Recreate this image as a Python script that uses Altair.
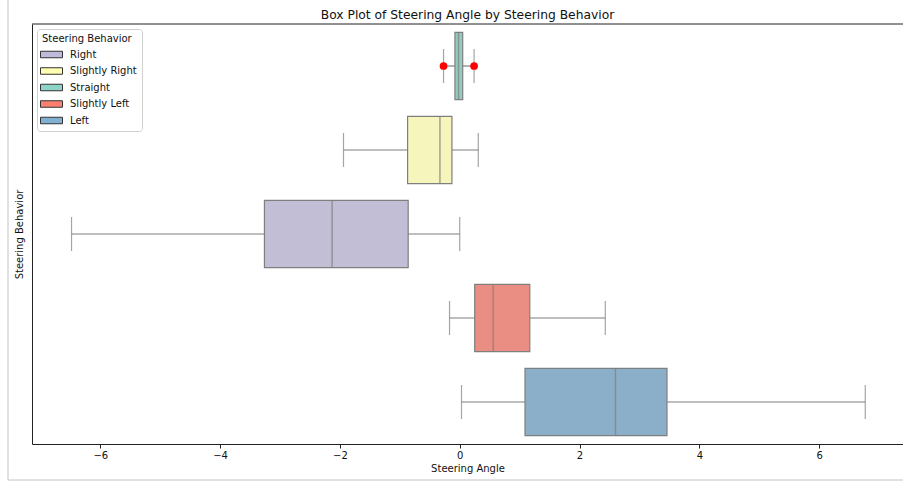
import altair as alt
import pandas as pd

# Categories, top to bottom on the y axis
behaviors = ["Straight", "Slightly Right", "Right", "Slightly Left", "Left"]
# Order used in the legend
legend_order = ["Right", "Slightly Right", "Straight", "Slightly Left", "Left"]

# Box statistics per behavior (same order as `behaviors`)
whisker_low = [-0.27, -1.94, -6.48, -0.17, 0.03]
q1 = [-0.08, -0.87, -3.26, 0.25, 1.09]
median = [-0.02, -0.33, -2.13, 0.56, 2.60]
q3 = [0.05, -0.13, -0.86, 1.17, 3.46]
whisker_high = [0.24, 0.31, 0.00, 2.43, 6.77]

# Flier points
outlier_behavior = ["Straight", "Straight"]
outlier_angle = [-0.27, 0.24]

# Set3 colors (legend) and their desaturated versions (boxes), legend order
legend_colors = ["#bebada", "#ffffb3", "#8dd3c7", "#fb8072", "#80b1d3"]
box_colors = ["#c1bed6", "#f6f6bc", "#96cac1", "#ea8e83", "#8bafc9"]

boxes = pd.DataFrame({
    "behavior": behaviors,
    "lo": whisker_low,
    "q1": q1,
    "median": median,
    "q3": q3,
    "hi": whisker_high,
})
caps = pd.DataFrame({
    "behavior": behaviors * 2,
    "angle": whisker_low + whisker_high,
})
fliers = pd.DataFrame({"behavior": outlier_behavior, "angle": outlier_angle})

W, H = 871, 420
LINE = "#7f7f7f"
INK = "#111111"

x_scale = alt.Scale(domain=[-7.14, 7.40], nice=False, zero=False)
x_axis = alt.Axis(
    values=[-6, -4, -2, 0, 2, 4, 6], title="Steering Angle", grid=False,
    domainColor="#222222", tickColor="#222222", tickSize=4,
    labelFontSize=10, labelColor=INK, labelPadding=2,
    titleFontSize=10, titleFontWeight="normal", titleColor=INK, titlePadding=3,
)


def X(field):
    return alt.X(f"{field}:Q", scale=x_scale, axis=x_axis)


Y = alt.Y(
    "behavior:N", sort=behaviors,
    scale=alt.Scale(domain=behaviors, paddingInner=0.2, paddingOuter=0.1),
    axis=alt.Axis(
        title="Steering Behavior", labels=False, ticks=False,
        domainColor="#222222", titleFontSize=10, titleFontWeight="normal",
        titleColor=INK, titlePadding=8,
    ),
)

base = alt.Chart(boxes)

# Hidden layer that carries the legend (full Set3 colors)
legend_layer = base.mark_point(filled=True, opacity=0).encode(
    x=X("median"), y=Y,
    color=alt.Color(
        "behavior:N",
        scale=alt.Scale(domain=legend_order, range=legend_colors),
        legend=alt.Legend(
            title="Steering Behavior", orient="top-left", offset=5, padding=5,
            strokeColor="#cfcfcf", fillColor="white", cornerRadius=3,
            titleFontSize=10, titleFontWeight="normal", titleColor=INK, titlePadding=5,
            labelFontSize=10, labelColor=INK, labelOffset=13,
            symbolType="M-2.2,-0.65L2.2,-0.65L2.2,0.65L-2.2,0.65Z",
            symbolSize=100, symbolStrokeColor="#333333", symbolStrokeWidth=1,
            symbolOpacity=1, symbolOffset=4, rowPadding=5.5,
        ),
    ),
)

whiskers = base.mark_rule(color=LINE, strokeWidth=1.2).encode(
    x=X("lo"), x2="hi", y=Y
)
cap_marks = alt.Chart(caps).mark_tick(
    color=LINE, thickness=1.2, size=34, orient="vertical"
).encode(x=X("angle"), y=Y)

box_marks = base.mark_bar(stroke=LINE, strokeWidth=1.2).encode(
    x=X("q1"), x2="q3", y=Y,
    color=alt.Color(
        "behavior:N",
        scale=alt.Scale(domain=legend_order, range=box_colors),
        legend=None,
    ),
)
median_marks = base.mark_tick(
    color=LINE, thickness=1.5, size=67, orient="vertical"
).encode(x=X("median"), y=Y)

flier_marks = alt.Chart(fliers).mark_circle(color="red", size=60, opacity=1).encode(
    x=X("angle"), y=Y
)

# Top spine and the thin outer frame
one = alt.Data(values=[{}])
top_spine = alt.Chart(one).mark_rule(color="#222222", strokeWidth=1).encode(
    x=alt.value(0), x2=alt.value(W), y=alt.value(0)
)
frame_left = alt.Chart(one).mark_rule(color="#c4c4c4", strokeWidth=1).encode(
    x=alt.value(-24), y=alt.value(-24), y2=alt.value(H + 36)
)
frame_bottom = alt.Chart(one).mark_rule(color="#c4c4c4", strokeWidth=1).encode(
    x=alt.value(-24), x2=alt.value(W), y=alt.value(H + 36)
)

chart = (
    alt.layer(
        legend_layer, whiskers, cap_marks, box_marks, median_marks, flier_marks,
        top_spine, frame_left, frame_bottom,
    )
    .resolve_scale(color="independent")
    .properties(
        width=W, height=H,
        title=alt.TitleParams(
            "Box Plot of Steering Angle by Steering Behavior",
            fontSize=12.3, fontWeight="normal", color=INK, offset=-22, anchor="middle",
        ),
        autosize=alt.AutoSizeParams(type="none"),
        padding={"left": 32, "top": 24, "right": 0, "bottom": 38},
        background="white",
    )
    .configure(font="DejaVu Sans")
    .configure_view(stroke=None)
)

chart.save("out.html", embed_options={"renderer": "svg", "actions": False})
